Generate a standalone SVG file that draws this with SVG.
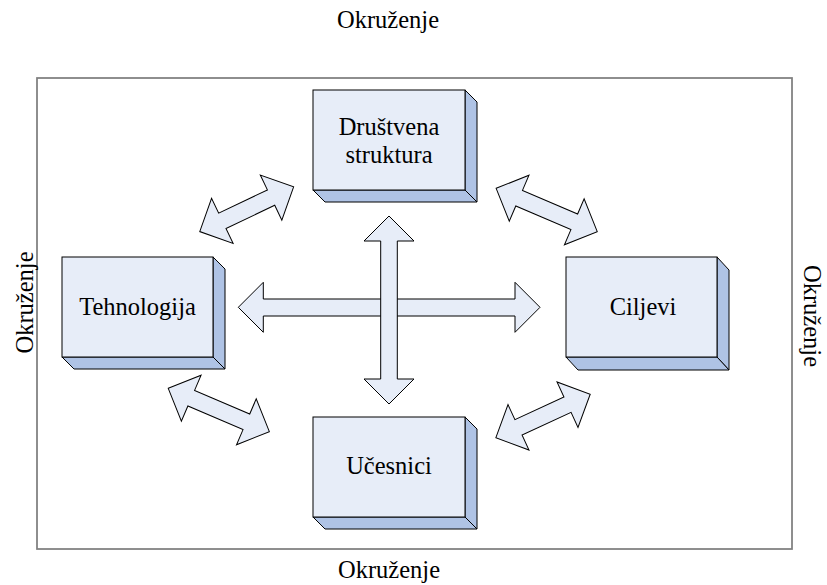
<svg xmlns="http://www.w3.org/2000/svg" width="827" height="585" viewBox="0 0 827 585">
<style>
  .front{fill:#E7EDF8;stroke:#000;stroke-width:1}
  .side{fill:#AFC3E5;stroke:#000;stroke-width:1;stroke-linejoin:miter}
  .arrow{fill:#E7EDF8;stroke:#000;stroke-width:1;stroke-linejoin:miter}
  .frame{fill:none;stroke:#7f7f7f;stroke-width:1.75}
  .lbl{font-family:"Liberation Serif","DejaVu Serif",serif;font-size:24.5px;fill:#000;text-anchor:middle}
</style>
<defs>
  <polygon id="darrS" class="arrow" points="-52,0 -27,-25 -27,-8.5 27,-8.5 27,-25 52,0 27,25 27,8.5 -27,8.5 -27,25"/>
  <polygon id="darrL" class="arrow" points="-55,0 -30,-25 -30,-8.5 30,-8.5 30,-25 55,0 30,25 30,8.5 -30,8.5 -30,25"/>
</defs>
<rect fill="#fff" x="0" y="0" width="827" height="585"/>

<g id="environment">
  <rect class="frame" x="37" y="78" width="755" height="471"/>
  <text class="lbl" x="388" y="28">Okruženje</text>
  <text class="lbl" x="389" y="578">Okruženje</text>
  <text class="lbl" transform="translate(33,302.5) rotate(-90)">Okruženje</text>
  <text class="lbl" transform="translate(804,316) rotate(90)">Okruženje</text>
</g>

<g id="connectors">
  <polygon class="arrow" points="238.3,307.3 263.3,282.3 263.3,299 515,299 515,282.3 540,307.3 515,332.3 515,316 263.3,316 263.3,332.3"/>
  <polygon class="arrow" points="389,216 414,241 397.3,241 397.3,379 414,379 389,404 364,379 380.7,379 380.7,241 364,241"/>
  <use href="#darrS" transform="translate(246.7,209.2) rotate(-25.5)"/>
  <use href="#darrL" transform="translate(546.7,210) rotate(23.2)"/>
  <use href="#darrL" transform="translate(218.8,410) rotate(23.2)"/>
  <use href="#darrS" transform="translate(543,416) rotate(-24.8)"/>
</g>

<g id="drustvena">
  <polygon class="side" points="465,90 477,102 477,202 465,190"/>
  <polygon class="side" points="313,190 465,190 477,202 325,202"/>
  <rect class="front" x="313" y="90" width="152" height="100"/>
  <text class="lbl" x="389" y="135">Društvena</text>
  <text class="lbl" x="389" y="163">struktura</text>
</g>

<g id="tehnologija">
  <polygon class="side" points="213,257 225,269 225,369 213,357"/>
  <polygon class="side" points="62,357 213,357 225,369 74,369"/>
  <rect class="front" x="62" y="257" width="151" height="100"/>
  <text class="lbl" x="137.5" y="315">Tehnologija</text>
</g>

<g id="ciljevi">
  <polygon class="side" points="717,257 729,270 729,370 717,357"/>
  <polygon class="side" points="566,357 717,357 729,370 578,370"/>
  <rect class="front" x="566" y="257" width="151" height="100"/>
  <text class="lbl" x="643" y="315">Ciljevi</text>
</g>

<g id="ucesnici">
  <polygon class="side" points="465,417 477,429 477,529 465,517"/>
  <polygon class="side" points="313,517 465,517 477,529 325,529"/>
  <rect class="front" x="313" y="417" width="152" height="100"/>
  <text class="lbl" x="389" y="474">Učesnici</text>
</g>
</svg>
